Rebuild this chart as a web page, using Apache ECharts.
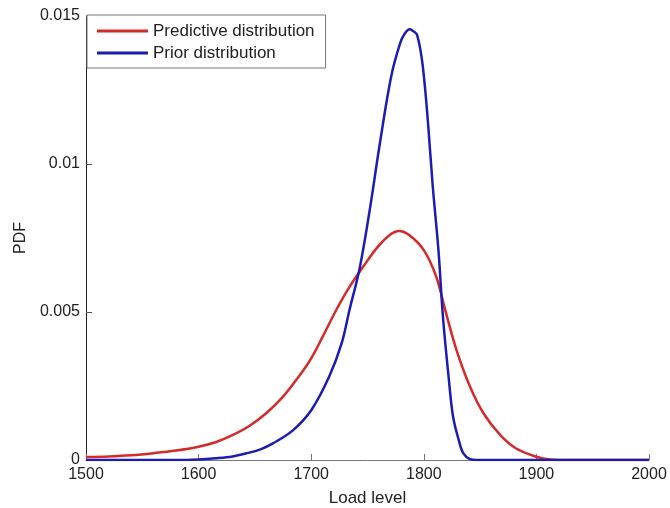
<!DOCTYPE html>
<html>
<head>
<meta charset="utf-8">
<script src="https://cdn.jsdelivr.net/npm/echarts@6/dist/echarts.min.js"></script>
<style>
  html, body { margin: 0; padding: 0; background: #fff; }
  #chart { width: 670px; height: 508px; }
</style>
</head>
<body>
<div id="chart"></div>
<script>
// Predictive distribution (red)
const predX = [1500, 1520, 1540, 1560, 1580, 1600, 1615, 1630, 1645, 1660, 1675, 1690, 1700, 1710, 1722,
  1734, 1746, 1758, 1770, 1778, 1787, 1800, 1811, 1819, 1829, 1841, 1853, 1868, 1882, 1900, 1912, 1930, 1960, 2000];
const predY = [0.0001, 0.00012, 0.00016, 0.00023, 0.00032, 0.00045, 0.0006, 0.00084, 0.00115, 0.00158, 0.00214,
  0.00287, 0.00343, 0.00415, 0.00505, 0.00585, 0.00652, 0.00715, 0.00761, 0.00774, 0.0076, 0.00709, 0.0062,
  0.00507, 0.00372, 0.00248, 0.00158, 0.00084, 0.00039, 0.00011, 0.00002, 0, 0, 0];

// Prior distribution (blue)
const priorX = [1500, 1550, 1580, 1600, 1615, 1630, 1642, 1655, 1666, 1684, 1700, 1716, 1727, 1734, 1743, 1752, 1761,
  1771, 1779, 1783, 1787.5, 1791, 1794, 1798, 1801, 1804, 1808, 1813, 1817, 1822, 1826, 1831, 1835, 1841, 1847,
  1860, 1900, 1950, 2000];
const priorY = [0, 0, 0, 0.00002, 0.00006, 0.00012, 0.00022, 0.00036, 0.00056, 0.00101, 0.00168, 0.00282, 0.00394,
  0.00507, 0.00647, 0.00845, 0.0107, 0.01295, 0.01408, 0.0144, 0.01455, 0.01448, 0.01436, 0.01362, 0.01261,
  0.01126, 0.00923, 0.00709, 0.00484, 0.00282, 0.00146, 0.00068, 0.00023, 0.00003, 0,
  0, 0, 0, 0];

const seriesNames = ['Predictive distribution', 'Prior distribution'];
const yTicks = [0, 0.005, 0.01, 0.015];

const zip = (xs, ys) => xs.map((x, i) => [x, ys[i]]);

const chart = echarts.init(document.getElementById('chart'));
const font = 'Arial, "Liberation Sans", sans-serif';

chart.setOption({
  animation: false,
  grid: { left: 86, right: 21, top: 16, bottom: 48, outerBoundsMode: 'none' },
  legend: {
    orient: 'vertical',
    left: 87,
    top: 15,
    padding: [6, 11, 5, 10],
    itemGap: 2,
    itemWidth: 51,
    itemHeight: 3,
    icon: 'rect',
    borderColor: '#777',
    borderWidth: 1,
    backgroundColor: '#fff',
    textStyle: { fontFamily: font, fontSize: 17, color: '#222', lineHeight: 20 },
    data: seriesNames
  },
  xAxis: {
    type: 'value',
    min: 1500,
    max: 2000,
    interval: 100,
    name: 'Load level',
    nameLocation: 'middle',
    nameGap: 30,
    nameTextStyle: { fontFamily: font, fontSize: 17, color: '#222' },
    axisLine: { lineStyle: { color: '#777', width: 1 } },
    axisTick: { inside: true, length: 6, lineStyle: { color: '#777' } },
    axisLabel: { fontFamily: font, fontSize: 16, color: '#222', margin: 7, formatter: v => String(v) },
    splitLine: { show: false }
  },
  yAxis: {
    type: 'value',
    min: 0,
    max: 0.015,
    interval: 0.005,
    name: 'PDF',
    nameLocation: 'middle',
    nameGap: 54,
    nameTextStyle: { fontFamily: font, fontSize: 16, color: '#222' },
    axisLine: { show: true, lineStyle: { color: '#222', width: 1 } },
    axisTick: { show: true, inside: true, length: 6, lineStyle: { color: '#555' } },
    axisLabel: {
      fontFamily: font, fontSize: 16, color: '#222', margin: 6,
      formatter: v => {
        const hit = yTicks.find(t => Math.abs(t - v) < 1e-9);
        return hit === undefined ? '' : String(hit);
      }
    },
    splitLine: { show: false }
  },
  series: [
    {
      name: seriesNames[0],
      type: 'line',
      data: zip(predX, predY),
      smooth: 0.35,
      symbol: 'none',
      color: '#d42a2a',
      lineStyle: { width: 2.5, color: '#d42a2a' },
      z: 2
    },
    {
      name: seriesNames[1],
      type: 'line',
      data: zip(priorX, priorY),
      smooth: 0.35,
      symbol: 'none',
      color: '#1c1cb0',
      lineStyle: { width: 2.5, color: '#1c1cb0' },
      z: 3
    }
  ]
});
</script>
</body>
</html>
